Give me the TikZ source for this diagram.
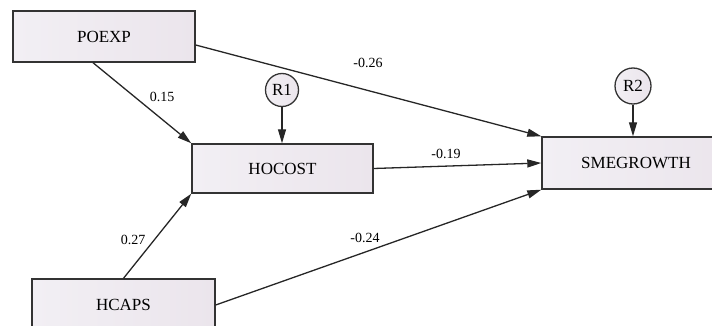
\documentclass[tikz,border=0pt]{standalone}
\usepackage{fontspec}
\setmainfont{Liberation Serif}
\usetikzlibrary{arrows.meta,calc}
\definecolor{boxline}{HTML}{333333}
\definecolor{fillL}{HTML}{F2EFF4}
\definecolor{fillR}{HTML}{EBE5EC}
\tikzset{
  varbox/.style={draw=boxline, line width=1.4pt, left color=fillL, right color=fillR,
    inner sep=0pt, font=\fontsize{17}{19}\selectfont},
  errc/.style={circle, draw=boxline, line width=1.3pt, left color=fillL, right color=fillR,
    inner sep=0pt, minimum size=33pt, font=\fontsize{17}{19}\selectfont},
  path/.style={draw=black!85, line width=1.3pt, -{Triangle[length=14pt,width=8pt]}},
  coef/.style={font=\fontsize{14}{16}\selectfont, inner sep=1pt}
}
\begin{document}
\begin{tikzpicture}[x=1pt,y=-1pt]
\useasboundingbox (0,0) rectangle (712,326);
\clip (0,0) rectangle (712,326);
\node[varbox, minimum width=182pt, minimum height=51pt] (poexp) at (104,36.5) {POEXP};
\node[varbox, minimum width=181pt, minimum height=49pt] (hocost) at (282.5,168.5) {HOCOST};
\node[varbox, minimum width=188pt, minimum height=52pt] (sme) at (636,163) {SMEGROWTH};
\node[varbox, minimum width=183pt, minimum height=52pt] (hcaps) at (123.5,305) {HCAPS};
\node[errc] (r1) at (282,90) {R1};
\node[errc, minimum size=36pt] (r2) at (633,86) {R2};

\draw[path] ([xshift=-11pt]poexp.south) -- (hocost.north west);
\draw[path] ([yshift=-8.5pt]poexp.east) -- (sme.north west);
\draw[path] (hocost.east) -- (sme.west);
\draw[path] (hcaps.north) -- (hocost.south west);
\draw[path] (hcaps.east) -- (sme.south west);
\draw[path] (r1) -- (r1 |- hocost.north);
\draw[path] (r2) -- (r2 |- sme.north);

\node[coef] (c1) at (162,97) {0.15};
\node[coef] (c2) at (368,63) {-0.26};
\node[coef] (c3) at (446,154) {-0.19};
\node[coef] (c4) at (133,240) {0.27};
\node[coef] (c5) at (365,238) {-0.24};
\end{tikzpicture}
\end{document}
